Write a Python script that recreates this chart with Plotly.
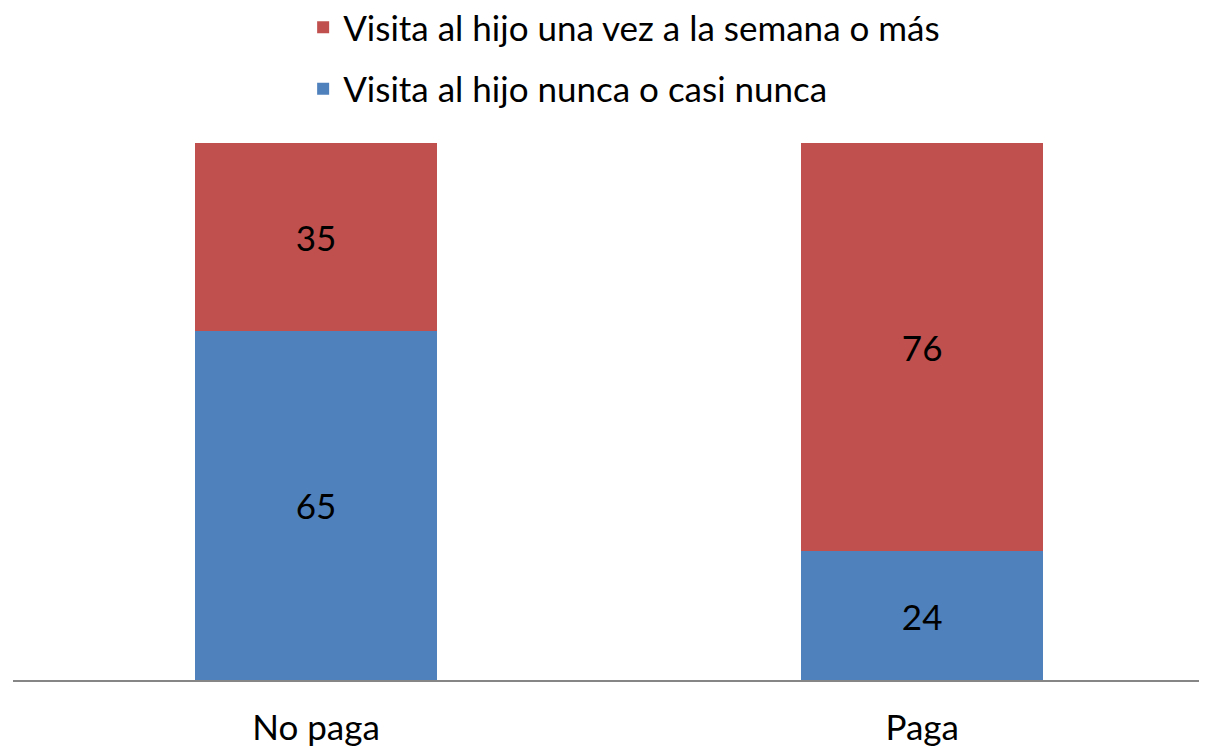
import plotly.graph_objects as go

categories = ['No paga', 'Paga']
nunca = [65, 24]
semanal = [35, 76]

BLUE = '#4F81BD'
RED = '#C0504D'
FONT = 'Lato'
SIZE = 35

fig = go.Figure()

fig.add_trace(go.Bar(
    x=categories, y=nunca, name='Visita al hijo nunca o casi nunca',
    marker_color=BLUE, marker_line_width=0, legendgroup='a', legendrank=2,
    text=nunca, textposition='inside', insidetextanchor='middle',
    textfont=dict(color='black', size=SIZE, family=FONT),
))
fig.add_trace(go.Bar(
    x=categories, y=semanal, name='Visita al hijo una vez a la semana o más',
    marker_color=RED, marker_line_width=0, legendgroup='b', legendrank=1,
    text=semanal, textposition='inside', insidetextanchor='middle',
    textfont=dict(color='black', size=SIZE, family=FONT),
))

# page body has an 8px margin, so the figure is a bit smaller than the window
fig.update_layout(
    width=1199, height=740,
    barmode='stack', bargap=0.6,
    margin=dict(l=5, r=0, t=135, b=68, autoexpand=False),
    paper_bgcolor='white', plot_bgcolor='white',
    font=dict(family=FONT, size=SIZE, color='black'),
    showlegend=True,
    legend=dict(
        x=0.243, y=1.270, xanchor='left', yanchor='top',
        traceorder='grouped', tracegroupgap=13,
        font=dict(size=SIZE), bgcolor='rgba(0,0,0,0)',
    ),
)

fig.update_xaxes(
    range=[-0.5, 1.47], showgrid=False, ticks='', automargin=False,
    showline=True, linecolor='#868686', linewidth=2,
    tickfont=dict(size=SIZE), ticklabelstandoff=16,
)
fig.update_yaxes(range=[0, 100], visible=False, showgrid=False)

fig.write_html('out.html')
